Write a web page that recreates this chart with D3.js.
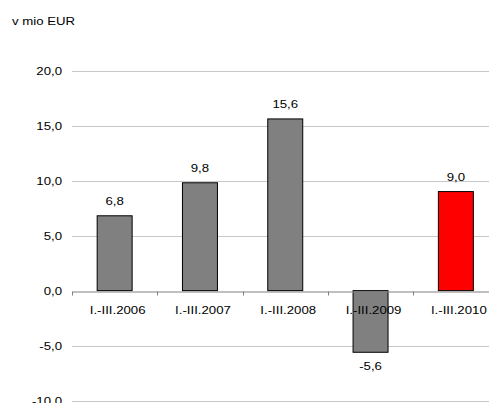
<!DOCTYPE html>
<html>
<head>
<meta charset="utf-8">
<script src="https://cdn.jsdelivr.net/npm/d3@7"></script>
<style>
  html, body { margin: 0; padding: 0; background: #fff; }
  svg { display: block; }
  text { font-family: "Liberation Sans", Arial, sans-serif; fill: #000; }
</style>
</head>
<body>
<svg id="chart" width="489" height="403"></svg>
<script>
// Net profit by period, in millions of EUR
const categories = ["I.-III.2006", "I.-III.2007", "I.-III.2008", "I.-III.2009", "I.-III.2010"];
const values = [6.8, 9.8, 15.6, -5.6, 9.0];
const barColors = ["#808080", "#808080", "#808080", "#808080", "#ff0000"];
const yTicks = [-10, -5, 0, 5, 10, 15, 20];
const unitLabel = "v mio EUR";

const svg = d3.select("#chart");
const plot = { left: 72, right: 498.5, top: 70.5, bottom: 400.7 };
const fontSize = 11.5;
const stretch = 1.15; // wide-set lettering

const x = d3.scaleBand().domain(categories).range([plot.left, plot.right]).paddingInner(0).paddingOuter(0);
const y = d3.scaleLinear().domain([-10, 20]).range([plot.bottom, plot.top]);
const fmt = v => d3.format(".1f")(v).replace(".", ",").replace("−", "-");

// Widen text horizontally while keeping its anchor point in place
function widen(sel) {
  sel.each(function () {
    const t = d3.select(this);
    const x0 = +(t.attr("x") || 0);
    const y0 = +(t.attr("y") || 0);
    t.attr("x", 0).attr("y", 0)
      .attr("transform", `translate(${x0},${y0}) scale(${stretch},1)`);
  });
  sel.style("font-size", fontSize + "px").attr("fill", "#000").attr("font-family", null);
}

// Unit label
svg.append("text").attr("x", 12).attr("y", 25).text(unitLabel).call(widen);

// Horizontal gridlines with value labels on the left
const yAxis = d3.axisLeft(y).tickValues(yTicks).tickSize(0).tickPadding(10).tickFormat(fmt);
const gy = svg.append("g").attr("transform", `translate(${plot.left},0)`).call(yAxis);
gy.select(".domain").remove();
gy.selectAll("text").call(widen);
svg.append("g").selectAll("line").data(yTicks.filter(t => t !== 0)).join("line")
  .attr("x1", plot.left).attr("x2", plot.right)
  .attr("y1", d => Math.round(y(d)) + 0.5).attr("y2", d => Math.round(y(d)) + 0.5)
  .attr("stroke", "#c8c8c8").attr("stroke-width", 1);

// Bars
const bw = x.bandwidth() * 0.41;
svg.append("g").selectAll("rect").data(values).join("rect")
  .attr("x", (d, i) => x(categories[i]) + (x.bandwidth() - bw) / 2)
  .attr("y", d => y(Math.max(0, d)))
  .attr("width", bw)
  .attr("height", d => Math.abs(y(d) - y(0)))
  .attr("fill", (d, i) => barColors[i])
  .attr("stroke", "#000").attr("stroke-width", 1);

// Category axis along zero
const xAxis = d3.axisBottom(x).tickSize(0).tickPadding(14);
const gx = svg.append("g").attr("transform", `translate(0,${Math.round(y(0)) + 0.5})`).call(xAxis);
gx.select(".domain").attr("stroke", "#808080");
gx.selectAll(".tick line").remove();
gx.selectAll("text").each(function () {
  // axis labels sit at y=tickPadding with dy, move them into y for widening
  const t = d3.select(this);
  t.attr("x", 3).attr("y", 14).attr("dy", "0.71em");
}).call(widen);
// Tick marks at band boundaries
const edges = categories.map(c => x(c)).concat([plot.right]);
gx.selectAll(".edge").data(edges).join("line").attr("class", "edge")
  .attr("x1", d => Math.round(d) + 0.5).attr("x2", d => Math.round(d) + 0.5)
  .attr("y1", 0).attr("y2", 4).attr("stroke", "#808080");

// Value labels
svg.append("g").selectAll("text").data(values).join("text")
  .attr("x", (d, i) => x(categories[i]) + x.bandwidth() / 2)
  .attr("y", d => d >= 0 ? y(d) - 11 : y(d) + 18)
  .attr("text-anchor", "middle")
  .text(d => fmt(d))
  .call(widen);
</script>
</body>
</html>
